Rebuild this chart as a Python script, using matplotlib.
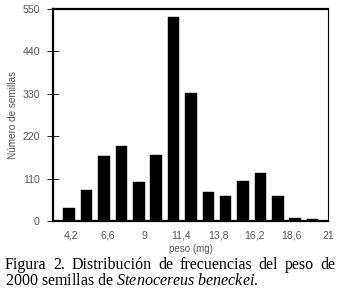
import matplotlib
matplotlib.use("Agg")
import matplotlib.pyplot as plt

plt.rcParams["font.family"] = "Liberation Sans"
plt.rcParams["mathtext.fontset"] = "custom"
plt.rcParams["mathtext.rm"] = "Liberation Serif"
plt.rcParams["mathtext.it"] = "Liberation Serif:italic"

# bins of seed weight (mg) and number of seeds per bin
bin_centers = [4.06, 5.2, 6.34, 7.48, 8.61, 9.75, 10.89, 12.03, 13.17, 14.3, 15.44, 16.58, 17.72, 18.86, 19.99]
counts = [33, 80, 169, 195, 102, 171, 530, 331, 75, 65, 103, 124, 65, 8, 4]

xticks = [4.2, 6.6, 9, 11.4, 13.8, 16.2, 18.6, 21]
xtick_labels = ["4,2", "6,6", "9", "11,4", "13,8", "16,2", "18,6", "21"]
yticks = [0, 110, 220, 330, 440, 550]

caption1 = "Figura 2. Distribución de frecuencias del peso de"
caption2 = "2000 semillas de $\\it{Stenocereus\\ beneckei.}$"

fig = plt.figure(figsize=(3.39, 3.04), dpi=100)
ax = fig.add_axes([0.1563, 0.273, 0.8113, 0.697])

ax.bar(bin_centers, counts, width=0.765, color="black", edgecolor="black", linewidth=0.3)

ax.set_xlim(3, 21)
ax.set_ylim(0, 550)
ax.set_xticks(xticks)
ax.set_xticklabels(xtick_labels)
ax.set_yticks(yticks)
ax.tick_params(axis="x", length=0, pad=7, labelsize=7.6, labelcolor="#555555")
ax.tick_params(axis="y", direction="inout", length=9, width=0.6, pad=5, labelsize=7.6, labelcolor="#555555")

for s in ["left", "top", "bottom"]:
    ax.spines[s].set_linewidth(1.6)
ax.spines["right"].set_linewidth(0.8)

ax.set_xlabel("peso (mg)", fontsize=7, color="#555555", labelpad=2)
ax.set_ylabel("Número de semillas", fontsize=7.2, color="#555555", labelpad=3)

# justified first caption line: place words one by one
renderer = fig.canvas.get_renderer()
words = caption1.split(" ")
x0, x1 = 5 / 339, 335 / 339
texts = [fig.text(0, 0.115, w, family="Liberation Serif", fontsize=11.5, va="baseline") for w in words]
widths = [t.get_window_extent(renderer).width / fig.bbox.width for t in texts]
gap = (x1 - x0 - sum(widths)) / (len(words) - 1)
x = x0
for t, w in zip(texts, widths):
    t.set_x(x)
    x += w + gap

fig.text(x0, 0.0625, caption2, family="Liberation Serif", fontsize=11.5, va="baseline")

fig.savefig("out.png", dpi=100)
